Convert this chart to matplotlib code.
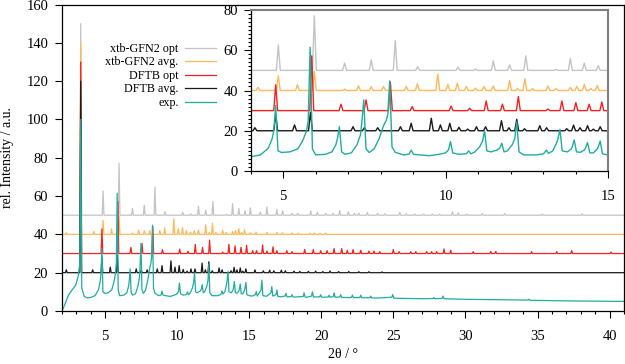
import matplotlib
matplotlib.use("Agg")
import matplotlib.pyplot as plt
import numpy as np
from matplotlib.ticker import MultipleLocator

plt.rcParams['font.family'] = ['Liberation Serif', 'DejaVu Serif']

# --- data ----------------------------------------------------------------
# calculated patterns: offset (baseline) and peaks as (2theta, intensity)
x_start, x_end = 2.0, 41.0

xtb_opt_base = 50
xtb_opt_peaks = [(3.3, 150), (4.85, 62.7), (5.96, 77.1), (6.89, 53.6), (7.71, 55.2), (8.45, 64.7),
                 (9.14, 51.9), (10.38, 51.6), (10.92, 50.7), (11.47, 54.7), (11.97, 52.7),
                 (12.47, 57.2), (13.4, 50.5), (13.84, 56), (14.27, 53.6), (14.7, 52.4),
                 (15.07, 53.8), (15.76, 51.7), (16.22, 54.3), (16.91, 52.9), (17.31, 52.3),
                 (17.96, 51), (18.36, 51), (19.26, 52.3), (19.72, 51.5), (20.3, 51), (20.8, 51),
                 (21.27, 52.5), (21.87, 51.8), (22.3, 51), (22.6, 51), (23.19, 51.5), (23.9, 51),
                 (24.4, 50.8), (25.44, 51.5), (25.9, 50.8), (26.5, 50.6), (27.1, 50.6), (27.7, 50.6),
                 (28.2, 50.6), (29.09, 51.8), (29.5, 51.2), (30.1, 50.6), (31.17, 50.8),
                 (32.72, 50.9), (35.33, 50.6), (38.1, 50.7)]

xtb_avg_base = 40
xtb_avg_peaks = [(2.3, 40.8), (3.3, 140), (4.22, 41.6), (4.85, 47.3), (5.44, 42.8), (5.96, 49.4),
                 (6.89, 40.7), (7.32, 42.3), (7.71, 41.9), (8.09, 42), (8.79, 42), (9.13, 43.3),
                 (9.76, 48.1), (10.07, 43), (10.36, 43.6), (10.64, 42), (10.92, 41.2), (11.18, 42),
                 (11.47, 42.3), (11.97, 44.9), (12.21, 41), (12.44, 45.8), (12.68, 41),
                 (13.15, 42.3), (13.4, 41), (13.84, 41.5), (14.04, 42), (14.27, 43), (14.47, 41),
                 (14.67, 42.5), (15.07, 41), (15.46, 41.2), (16.22, 41), (16.91, 41), (17.31, 40.8),
                 (17.96, 40.8), (18.4, 40.6), (19.2, 40.6), (19.5, 40.7), (19.9, 40.6), (20.3, 40.7)]

dftb_opt_base = 30
dftb_opt_peaks = [(3.3, 130), (4.77, 42.8), (5.88, 57.2), (6.78, 33.2), (7.55, 35.3), (8.3, 44.1),
                  (8.97, 32), (10.17, 32.3), (10.74, 31.2), (11.25, 34.8), (11.75, 33.2),
                  (12.24, 37), (13.15, 30.8), (13.58, 34.8), (14.01, 34), (14.42, 33.2),
                  (14.81, 34.3), (15.23, 31.5), (15.5, 31.5), (15.92, 34.4), (16.22, 31.3),
                  (16.64, 33.5), (16.91, 31.5), (17.6, 31.5), (17.96, 31), (18.84, 32.1),
                  (19.44, 32.1), (19.95, 31.5), (20.4, 31.5), (20.88, 32.6), (21.41, 32.6),
                  (21.8, 31.7), (22.2, 32.1), (22.73, 31.7), (23.3, 31.3), (23.65, 31.3),
                  (24.05, 31), (24.99, 32.1), (25.4, 31), (26.2, 31), (26.55, 31), (27.3, 31),
                  (27.65, 31), (28.0, 31), (28.51, 32.4), (28.97, 31.7), (30.54, 31), (31.75, 31.1),
                  (32.1, 31.1), (34.59, 31), (36.33, 31), (37.37, 31.5), (40.1, 30.8)]

dftb_avg_base = 20
dftb_avg_peaks = [(2.3, 21.5), (3.3, 120), (4.13, 21.5), (4.77, 28), (5.35, 22.9), (5.84, 29.2),
                  (7.15, 22), (7.5, 21.5), (7.91, 21.5), (8.61, 22), (8.94, 23.7), (9.56, 26.2),
                  (9.84, 22.9), (10.13, 23.7), (10.41, 21.7), (10.68, 20.8), (10.95, 22),
                  (11.23, 22), (11.72, 25), (11.95, 21.5), (12.19, 25.7), (12.43, 21), (12.9, 22.5),
                  (13.11, 21.5), (13.73, 21), (13.94, 22.8), (14.14, 21.5), (14.37, 22.5),
                  (14.55, 20.8), (14.76, 22), (15.39, 21.5), (15.97, 21), (16.41, 21.3), (16.7, 21),
                  (17.22, 21.3), (17.5, 21), (18.1, 20.8), (18.5, 20.7), (19.1, 20.7), (19.6, 20.8),
                  (20.1, 20.6), (20.6, 20.9), (21.2, 20.6), (21.9, 20.6), (22.6, 20.5), (23.3, 20.5),
                  (24.2, 20.4)]

# experimental pattern: background points and peaks (2theta, top, left foot, right foot)
exp_background = [(2.0, 0.0), (2.2, 3.5), (2.45, 8.3), (2.7, 11), (2.95, 13.5), (3.12, 18),
                  (3.55, 7.5), (3.8, 6.8), (4.0, 7.1), (4.3, 8), (4.54, 11.3), (4.66, 16),
                  (4.95, 9.2), (5.2, 9.5), (5.45, 11), (5.6, 15), (5.72, 20), (6.0, 8), (6.3, 8.3),
                  (6.5, 9.5), (6.62, 13), (6.9, 8.3), (7.1, 9), (7.27, 13), (7.38, 18), (7.65, 9.2),
                  (7.8, 11), (7.95, 16), (8.1, 22.9), (8.17, 25), (8.45, 9.3), (8.7, 8), (8.85, 8.3),
                  (9.2, 8), (9.5, 7.6), (9.8, 8.3), (10.0, 9), (10.4, 8.3), (10.6, 8.5), (10.9, 9.5),
                  (11.05, 12), (11.4, 9.5), (11.6, 10.5), (11.9, 10), (12.05, 13), (12.4, 8),
                  (12.8, 8), (13.0, 8.5), (13.3, 10), (13.42, 14), (13.75, 9.5), (13.87, 11),
                  (14.15, 9.3), (14.28, 10.5), (14.55, 9), (14.67, 11), (15.0, 8), (15.2, 7.8),
                  (16.2, 7.7), (17.2, 7.4), (18.2, 7.3), (19.0, 7.2), (20.2, 7.2), (21.0, 7.2),
                  (22.0, 7.0), (23.0, 6.9), (24.0, 6.8), (25.5, 6.6), (27.0, 6.4), (29.0, 6.3),
                  (30.0, 6.1), (32.0, 5.9), (34.0, 5.7), (36.0, 5.4), (38.0, 5.2), (41.0, 5.0)]

exp_peaks = [(3.3, 100, 25, 12), (4.77, 32.5, 20, 10), (5.83, 61.5, 25, 11), (6.73, 22, 16, 9.5),
             (7.48, 35.3, 24, 11), (8.28, 44.8, 28, 12), (8.94, 10.4, 8.5, 8.3),
             (10.15, 14.6, 10.5, 9), (10.71, 10, 8.8, 8.5), (11.2, 19.9, 15, 10),
             (11.73, 13.8, 11.5, 9.5), (12.19, 24.5, 16, 9.5), (13.1, 10.4, 9, 8.8),
             (13.52, 20.7, 16, 10), (13.96, 15.4, 12, 9.5), (14.37, 14.1, 11.5, 9),
             (14.76, 14.9, 12, 8.5), (15.48, 10.2, 8.5, 7.8), (15.87, 16.1, 11, 8),
             (16.56, 12.7, 9.5, 7.8), (16.91, 11, 8.5, 7.6), (17.54, 9.2, 7.8, 7.4),
             (17.96, 8.5, 7.5, 7.3), (18.8, 9.5, 7.6, 7.3), (19.38, 10, 7.8, 7.3),
             (19.95, 8.5, 7.4, 7.2), (20.53, 8.2, 7.3, 7.2), (20.88, 9.5, 7.5, 7.2),
             (21.34, 8.5, 7.3, 7.1), (22.15, 8.3, 7.1, 7.0), (22.73, 8.3, 7.0, 6.9),
             (23.42, 7.8, 6.9, 6.8), (24.95, 8.6, 7.2, 6.7), (27.8, 7, 6.5, 6.4),
             (28.44, 7.8, 6.6, 6.4), (34.4, 6.2, 5.7, 5.6)]

labels = ["xtb-GFN2 opt", "xtb-GFN2 avg.", "DFTB opt", "DFTB avg.", "exp."]
colors = ["#c4c4c4", "#ffb959", "#f52020", "#1a1a1a", "#1fae9f"]


def stick_trace(base, peaks, hw=0.06):
    # polyline through the read peak tops, back to the baseline between them
    pts = [(x_start, base)]
    for p, h in sorted(peaks):
        pts += [(p - hw, base), (p, h), (p + hw, base)]
    pts.append((x_end, base))
    a = np.array(pts)
    return a[:, 0], a[:, 1]


def exp_trace(bg, peaks, dl=0.06, dr=0.07):
    pts = list(bg)
    for p, top, fl, fr in peaks:
        pts += [(p - dl, fl), (p, top), (p + dr, fr)]
    a = np.array(sorted(pts))
    return a[:, 0], a[:, 1]


traces = [stick_trace(xtb_opt_base, xtb_opt_peaks),
          stick_trace(xtb_avg_base, xtb_avg_peaks),
          stick_trace(dftb_opt_base, dftb_opt_peaks),
          stick_trace(dftb_avg_base, dftb_avg_peaks),
          exp_trace(exp_background, exp_peaks)]

fig = plt.figure(figsize=(6.25, 3.64), dpi=100)
ax = fig.add_axes([62 / 625, 1 - 311 / 364, 562 / 625, 306.5 / 364])

lines = []
for (xx, yy), c, lab in zip(traces, colors, labels):
    ln, = ax.plot(xx, yy, color=c, lw=0.9, label=lab)
    lines.append(ln)

ax.set_xlim(2, 41)
ax.set_ylim(0, 160)
ax.xaxis.set_major_locator(MultipleLocator(5))
ax.xaxis.set_minor_locator(MultipleLocator(1))
ax.yaxis.set_major_locator(MultipleLocator(20))
ax.tick_params(which='major', direction='out', length=5, width=0.8, labelsize=10.5)
ax.tick_params(which='minor', direction='out', length=2.5, width=0.8)
ax.tick_params(axis='x', which='major', pad=9)
ax.tick_params(axis='y', which='major', pad=5)
for s in ax.spines.values():
    s.set_linewidth(0.9)
ax.set_xlabel("2θ / °", fontsize=10, labelpad=3)
ax.set_ylabel("rel. Intensity / a.u.", fontsize=10, labelpad=9)

# inset zoom on low angles
ins = fig.add_axes([250.7 / 625, 1 - 171 / 364, 357.3 / 625, 161 / 364])
for (xx, yy), c in zip(traces, colors):
    ins.plot(xx, yy, color=c, lw=1.0)
ins.set_xlim(4, 15)
ins.set_ylim(0, 80)
ins.xaxis.set_major_locator(MultipleLocator(5))
ins.xaxis.set_minor_locator(MultipleLocator(1))
ins.yaxis.set_major_locator(MultipleLocator(20))
ins.yaxis.set_minor_locator(MultipleLocator(2))
ins.tick_params(which='major', direction='out', length=5, width=0.8, labelsize=10.5)
ins.tick_params(which='minor', direction='out', length=2.5, width=0.8)
ins.tick_params(axis='x', which='major', pad=9)
ins.tick_params(axis='y', which='major', pad=4)
ins.spines['left'].set_linewidth(0.9)
ins.spines['bottom'].set_linewidth(0.9)
for side in ['top', 'right']:
    ins.spines[side].set_color('#808080')
    ins.spines[side].set_linewidth(1.5)

fig.legend(handles=lines, labels=labels, loc='upper right',
           bbox_to_anchor=(216 / 625, 1 - 43 / 364), frameon=False, markerfirst=False,
           fontsize=8.7, handlelength=2.6, handletextpad=0.5, labelspacing=0.12,
           borderpad=0, borderaxespad=0)

fig.savefig("out.png", dpi=100)
